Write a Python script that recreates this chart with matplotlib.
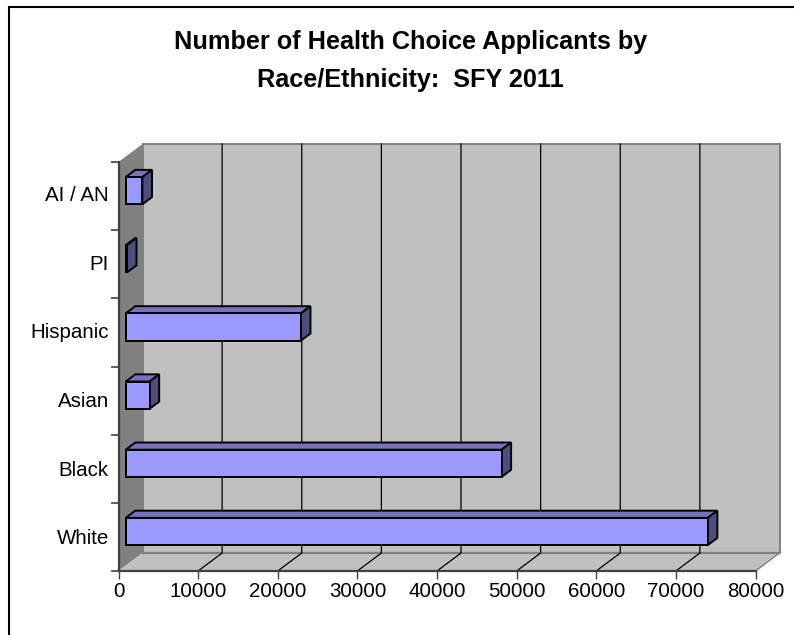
import matplotlib
matplotlib.use("Agg")
import matplotlib.pyplot as plt
from matplotlib.lines import Line2D
from matplotlib.patches import Polygon

plt.rcParams['font.family'] = ['Liberation Sans', 'DejaVu Sans']

categories = ["White", "Black", "Asian", "Hispanic", "PI", "AI / AN"]
values = [73100, 47200, 3000, 22000, 150, 2100]
x_ticks = [0, 10000, 20000, 30000, 40000, 50000, 60000, 70000, 80000]
title_lines = ["Number of Health Choice Applicants by", "Race/Ethnicity:  SFY 2011"]

W, H = 794, 635
fig = plt.figure(figsize=(W / 100, H / 100), dpi=100, facecolor="white")

L, R, T, B = 118.5, 755.5, 162, 571
ax = fig.add_axes([L / W, 1 - B / H, (R - L) / W, (B - T) / H])
ax.set_xlim(0, 80000)
ax.set_ylim(0, len(categories))
ax.patch.set_visible(False)

# oblique depth of the pseudo-3D box, in data units
DX = 24.0 / (R - L) * 80000
DY = 18.0 / (B - T) * len(categories)
D0, D1 = 0.30, 0.70
BAR_H = 0.40

def proj(v, c, d):
    return (v + d * DX, c + d * DY)

def poly(pts, **kw):
    kw.setdefault("clip_on", False)
    ax.add_patch(Polygon(pts, closed=True, **kw))

n = len(categories)
wall = "#C0C0C0"
edge = "#808080"
# back wall, side wall, floor
poly([proj(0, 0, 1), proj(80000, 0, 1), proj(80000, n, 1), proj(0, n, 1)],
     facecolor=wall, edgecolor=edge, lw=1.4, zorder=1)
poly([proj(0, 0, 0), proj(0, 0, 1), proj(0, n, 1), proj(0, n, 0)],
     facecolor="#808080", edgecolor="none", zorder=1.1)
poly([proj(0, 0, 0), proj(80000, 0, 0), proj(80000, 0, 1), proj(0, 0, 1)],
     facecolor=wall, edgecolor="none", zorder=1.1)
ax.plot(*zip(proj(0, 0, 1), proj(80000, 0, 1)), color=edge, lw=1.6, clip_on=False, zorder=1.15)
ax.plot(*zip(proj(80000, 0, 0), proj(80000, 0, 1)), color=edge, lw=1.0, clip_on=False, zorder=1.15)

# gridlines: back wall and across the floor
for t in x_ticks[1:-1]:
    ax.plot(*zip(proj(t, 0, 0), proj(t, 0, 1), proj(t, n, 1)),
            color="black", lw=0.9, clip_on=False, zorder=1.2)

# bars
for i, v in enumerate(values):
    yc = i + 0.5
    lo, hi = yc - BAR_H / 2, yc + BAR_H / 2
    ax.barh(yc + D0 * DY, v, height=BAR_H, left=D0 * DX,
            facecolor="#9999FF", edgecolor="black", lw=1.4, zorder=3, clip_on=False)
    poly([proj(0, hi, D0), proj(v, hi, D0), proj(v, hi, D1), proj(0, hi, D1)],
         facecolor="#7373BF", edgecolor="black", lw=1.4, joinstyle="miter", zorder=2.5)
    poly([proj(v, lo, D0), proj(v, hi, D0), proj(v, hi, D1), proj(v, lo, D1)],
         facecolor="#4D4D80", edgecolor="black", lw=1.4, joinstyle="miter", zorder=2.6)

# axes and ticks
for s in ("top", "right"):
    ax.spines[s].set_visible(False)
for s in ("left", "bottom"):
    ax.spines[s].set_color("#404040")
    ax.spines[s].set_linewidth(1.6)
    ax.spines[s].set_zorder(4)
ax.set_xticks(x_ticks)
ax.set_xticklabels([str(t) for t in x_ticks])
ax.set_yticks(range(n + 1))
ax.set_yticks([i * 1.008 + 0.5 for i in range(n)], minor=True)
ax.set_yticklabels([])
ax.set_yticklabels(categories, minor=True)
ax.tick_params(axis="y", which="major", length=5.5, width=1.2, color="#404040", left=True)
ax.tick_params(axis="y", which="minor", length=0, pad=7, labelsize=14.8, labelcolor="black")
ax.tick_params(axis="x", length=5.5, width=1.0, color="#404040", pad=2.5, labelsize=14.8)

fig.text(410.5 / W, 1 - 42 / H, title_lines[0], ha="center", va="center",
         fontsize=18.2, fontweight="bold", color="black")
fig.text(410.5 / W, 1 - 80 / H, title_lines[1], ha="center", va="center",
         fontsize=18.2, fontweight="bold", color="black")

# chart frame: only the top and left edges show in the reference
fig.add_artist(Line2D([1, 8.5 / W, 8.5 / W], [1 - 6.5 / H, 1 - 6.5 / H, 0],
                      transform=fig.transFigure, color="black", lw=1.5,
                      solid_joinstyle="miter"))

fig.savefig("out.png", dpi=100)
